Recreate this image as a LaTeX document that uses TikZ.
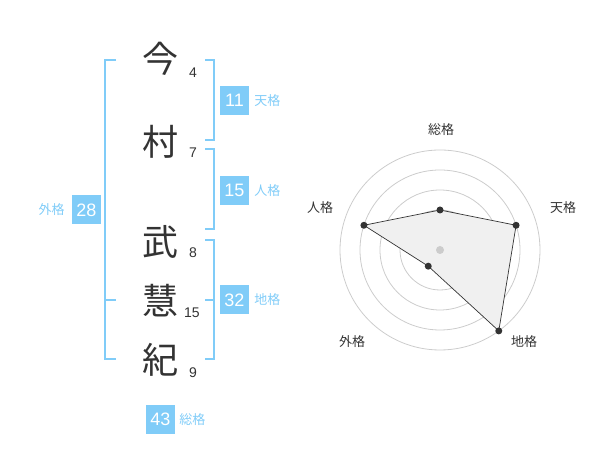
\documentclass[tikz,border=0pt]{standalone}
\usepackage{fontspec}
\usetikzlibrary{positioning}
\setmainfont{Liberation Sans}
\newfontfamily\cjk{Noto Sans CJK JP}
\definecolor{kakublue}{RGB}{128,204,248}
\definecolor{ink}{RGB}{51,51,51}

\begin{document}
\begin{tikzpicture}[x=1pt,y=1pt,
    kanji/.style={text=ink,font=\cjk\fontsize{36}{36}\selectfont,inner sep=0pt},
    kakusu/.style={text=ink,font=\fontsize{14}{14}\selectfont,inner sep=0pt},
    kakubox/.style={fill=kakublue,text=white,minimum size=29pt,inner sep=0pt,font=\fontsize{18}{18}\selectfont},
    kakuname/.style={text=kakublue,font=\cjk\fontsize{13}{13}\selectfont,inner sep=0pt},
    bracket/.style={draw=kakublue,line width=2pt},
    ring/.style={draw=black!20,line width=0.8pt},
    axisname/.style={text=ink,font=\cjk\fontsize{13}{13}\selectfont,inner sep=0pt},
    vertex/.style={circle,fill=ink,inner sep=0pt,minimum size=7pt}]
    \useasboundingbox (0,0) rectangle (600,470);
    % name and stroke counts
    \node[kanji] (k1) at (160,411) {今};
    \node[kanji] (k2) at (160,328) {村};
    \node[kanji] (k3) at (160,228) {武};
    \node[kanji] (k4) at (160,169.5) {慧};
    \node[kanji] (k5) at (160,110) {紀};
    \node[kakusu] (s1) at (193,397) {4};
    \node[kakusu] (s2) at (193,317) {7};
    \node[kakusu] (s3) at (193,217) {8};
    \node[kakusu] (s4) at (192,157) {15};
    \node[kakusu] (s5) at (193,97) {9};
    % brackets
    \draw[bracket] (205,410) -| (214,330) -- (205,330);
    \draw[bracket] (205,321) -| (214,241) -- (205,241);
    \draw[bracket] (205,230) -| (214,111) -- (205,111);
    \draw[bracket] (205,170) -- (214,170);
    \draw[bracket] (116,410) -| (105,111) -- (116,111);
    \draw[bracket] (105,170) -- (116,170);
    % scores
    \node[kakubox] (ten) at (234.5,369.5) {11};
    \node[kakuname,right=5pt of ten] (tenname) {天格};
    \node[kakubox] (jin) at (234.5,279.5) {15};
    \node[kakuname,right=5pt of jin] (jinname) {人格};
    \node[kakubox] (chi) at (234.5,170) {32};
    \node[kakuname,right=5pt of chi] (chiname) {地格};
    \node[kakubox] (gai) at (86.5,260) {28};
    \node[kakuname,left=7pt of gai] (gainame) {外格};
    \node[kakubox] (so) at (160.5,50.5) {43};
    \node[kakuname,right=4pt of so] (soname) {総格};
    % radar
    \coordinate (ctr) at (440,220);
    \foreach \r in {20,40,60,80,100}
        \draw[ring] (ctr) circle (\r pt);
    \foreach \n/\a/\r in {so/90/40,ten/18/80,chi/-54/100,gai/-126/20,jin/162/80}
        \coordinate (r-\n) at ([shift={(\a:\r pt)}]ctr);
    \filldraw[fill=black!6,draw=ink,line width=0.7pt] (r-so) -- (r-ten) -- (r-chi) -- (r-gai) -- (r-jin) -- cycle;
    \fill[black!20] (ctr) circle (4pt);
    \foreach \n in {so,ten,chi,gai,jin}
        \node[vertex] (d-\n) at (r-\n) {};
    \node[axisname] (a-so) at (441,340) {総格};
    \node[axisname] (a-ten) at (563,262) {天格};
    \node[axisname] (a-chi) at (524,128) {地格};
    \node[axisname] (a-gai) at (352,128) {外格};
    \node[axisname] (a-jin) at (320,262) {人格};
\end{tikzpicture}
\end{document}
